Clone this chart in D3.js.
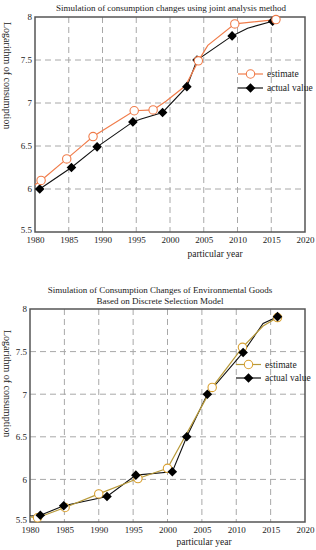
<!DOCTYPE html>
<html><head><meta charset="utf-8">
<script src="https://cdn.jsdelivr.net/npm/d3@7"></script>
<style>body{margin:0;background:#fff}svg{display:block}text{font-family:"Liberation Serif","Times New Roman",serif;fill:#222}</style>
</head><body><svg id="c" width="316" height="550"></svg>
<script>
// ---- data ----
const xTicks = [1980,1985,1990,1995,2000,2005,2010,2015,2020];
const yTicks = [5.5,6,6.5,7,7.5,8];
const yTickLabels = ["5.5","6","6.5","7","7.5","8"];
const legendLabels = ["estimate","actual value"];

const est1Years = [1980.0,1980.9,1984.7,1986.8,1988.6,1994.7,1997.5,1999.4,2002.3,2004.2,2005.6,2009.6,2015.7];
const est1Vals  = [6.05,6.10,6.35,6.49,6.61,6.91,6.92,7.02,7.20,7.49,7.67,7.92,7.97];
const est1Mark  = [0,1,1,0,1,1,1,0,0,1,0,1,1];
const act1Years = [1980.7,1985.4,1989.2,1994.5,1995.6,1998.9,2002.5,2004.0,2009.2,2011.5,2015.2];
const act1Vals  = [6.00,6.25,6.49,6.78,6.81,6.89,7.19,7.50,7.78,7.87,7.95];
const act1Mark  = [1,1,1,1,0,1,1,1,1,0,1];

const est2Years = [1980.0,1981.1,1985.1,1990.0,1995.7,2000.0,2006.5,2010.9,2013.9,2016.0];
const est2Vals  = [5.56,5.55,5.67,5.83,6.01,6.13,7.08,7.55,7.80,7.90];
const est2Mark  = [0,1,1,1,1,1,1,1,0,1];
const act2Years = [1980.0,1981.5,1984.9,1991.2,1995.4,2000.7,2002.8,2005.8,2011.0,2013.9,2016.0];
const act2Vals  = [5.57,5.58,5.69,5.80,6.05,6.09,6.50,7.00,7.49,7.83,7.91];
const act2Mark  = [0,1,1,1,1,1,1,1,1,0,1];

const svg = d3.select("#c");

function chart(cfg){
  const x = d3.scaleLinear().domain([1980,2020]).range([cfg.l,cfg.r]);
  const y = d3.scaleLinear().domain([5.5,8]).range([cfg.b,cfg.t]);
  const g = svg.append("g");
  // grid
  g.selectAll(".vg").data(xTicks.slice(1,-1)).enter().append("line")
    .attr("x1",d=>x(d)).attr("x2",d=>x(d)).attr("y1",cfg.t).attr("y2",cfg.b)
    .attr("stroke","#a8a8a8").attr("stroke-width",1).attr("stroke-dasharray","6,4");
  g.selectAll(".hg").data(yTicks.slice(1,-1)).enter().append("line")
    .attr("y1",d=>y(d)).attr("y2",d=>y(d)).attr("x1",cfg.l).attr("x2",cfg.r)
    .attr("stroke","#a8a8a8").attr("stroke-width",1).attr("stroke-dasharray","6,4");
  // axes labels
  const xa = g.append("g").attr("transform",`translate(0,${cfg.b})`)
    .call(d3.axisBottom(x).tickValues(xTicks).tickSize(0).tickPadding(5).tickFormat(d3.format("d")));
  xa.select(".domain").remove();
  xa.selectAll("text").attr("font-size",9).attr("font-family","Liberation Serif").attr("fill","#222");
  const ya = g.append("g").attr("transform",`translate(${cfg.yl},0)`)
    .call(d3.axisLeft(y).tickValues(yTicks).tickSize(0).tickPadding(0).tickFormat((d,i)=>yTickLabels[i]));
  ya.select(".domain").remove();
  ya.selectAll("text").attr("font-size",9).attr("font-family","Liberation Serif").attr("fill","#222")
    .attr("dy",(d,i)=>i===0?"0.1em":"0.32em");
  // frame
  g.append("rect").attr("x",cfg.l).attr("y",cfg.t).attr("width",cfg.r-cfg.l).attr("height",cfg.b-cfg.t)
    .attr("fill","none").attr("stroke","#555").attr("stroke-width",1.5);
  // lines
  const line = d3.line().x(d=>x(d[0])).y(d=>y(d[1]));
  const est = cfg.estY.map((v,i)=>[v,cfg.estV[i],cfg.estM[i]]);
  const act = cfg.actY.map((v,i)=>[v,cfg.actV[i],cfg.actM[i]]);
  g.append("path").datum(act).attr("d",line).attr("fill","none").attr("stroke","#111").attr("stroke-width",1.1);
  g.append("path").datum(est).attr("d",line).attr("fill","none").attr("stroke",cfg.estLine).attr("stroke-width",1.2);
  const dia = d3.symbol().type(d3.symbolSquare).size(46);
  function diamonds(sel,data){
    sel.selectAll(null).data(data).enter().append("path")
      .attr("d",dia).attr("transform",d=>`translate(${x(d[0])},${y(d[1])}) rotate(45)`).attr("fill","#000");
  }
  function circles(sel,data){
    sel.selectAll(null).data(data).enter().append("circle")
      .attr("cx",d=>x(d[0])).attr("cy",d=>y(d[1])).attr("r",4.2)
      .attr("fill","#fff").attr("stroke",cfg.estColor).attr("stroke-width",1.1);
  }
  if(cfg.estOnTop){ diamonds(g,act.filter(d=>d[2])); circles(g,est.filter(d=>d[2])); }
  else { circles(g,est.filter(d=>d[2])); diamonds(g,act.filter(d=>d[2])); }
  // legend
  const lg = g.append("g");
  [0,1].forEach(i=>{
    const yy = cfg.legY[i];
    lg.append("line").attr("x1",cfg.legX).attr("x2",cfg.legX+25).attr("y1",yy).attr("y2",yy)
      .attr("stroke",i===0?cfg.estLine:"#111").attr("stroke-width",1.2);
    if(i===0) lg.append("circle").attr("cx",cfg.legX+12.5).attr("cy",yy).attr("r",4.2)
      .attr("fill","#fff").attr("stroke",cfg.estColor).attr("stroke-width",1.1);
    else lg.append("path").attr("d",dia).attr("transform",`translate(${cfg.legX+12.5},${yy}) rotate(45)`).attr("fill","#000");
    lg.append("text").attr("x",cfg.legX+29).attr("y",yy+3.3).attr("font-size",9.5).text(legendLabels[i]);
  });
  // titles
  cfg.title.forEach((t,i)=>{
    g.append("text").attr("x",cfg.titleX).attr("y",cfg.titleY+i*10.5).attr("text-anchor","middle")
      .attr("font-size",9).text(t);
  });
  g.append("text").attr("x",cfg.xlabX).attr("y",cfg.xlabY).attr("text-anchor","middle")
    .attr("font-size",9.5).text("particular year");
  g.append("text").attr("transform",`translate(${cfg.ylabX},${cfg.ylabY}) rotate(90)`)
    .attr("font-size",10).text("Logarithm of consumption");
}

chart({l:35,r:305,t:17,b:232,yl:32,
  estY:est1Years,estV:est1Vals,estM:est1Mark,actY:act1Years,actV:act1Vals,actM:act1Mark,
  estColor:"#f07c4a",estLine:"#f07c4a",estOnTop:true,
  legX:238,legY:[74,88],
  title:["Simulation of consumption changes using joint analysis method"],titleX:171,titleY:11,
  xlabX:215,xlabY:257,ylabX:4,ylabY:22});

chart({l:30,r:305,t:309,b:522,yl:27,
  estY:est2Years,estV:est2Vals,estM:est2Mark,actY:act2Years,actV:act2Vals,actM:act2Mark,
  estColor:"#d9a030",estLine:"#b89a3a",estOnTop:false,
  legX:236,legY:[364.5,378],
  title:["Simulation of Consumption Changes of Environmental Goods","Based on Discrete Selection Model"],titleX:160,titleY:293,
  xlabX:204,xlabY:545,ylabX:4,ylabY:330});
</script></body></html>
